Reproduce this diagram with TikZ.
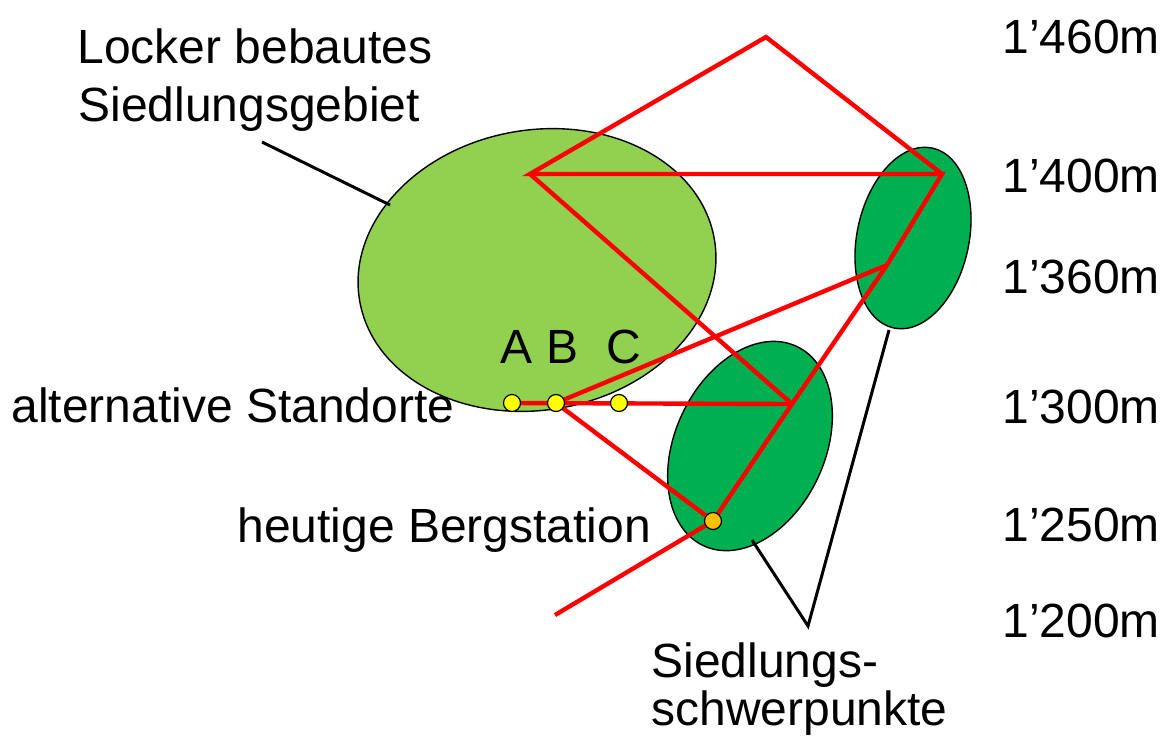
\documentclass[tikz,border=0pt]{standalone}
\usepackage{fontspec}
\setmainfont{Liberation Sans}
\usepackage{xcolor}
\usepackage{tikz}
\usetikzlibrary{shapes.geometric}
\definecolor{verdechiaro}{HTML}{92D050}
\definecolor{verdescuro}{HTML}{00B050}
\definecolor{rosso}{HTML}{FF0000}
\definecolor{giallo}{HTML}{FFFF00}
\definecolor{arancio}{HTML}{FFC000}

\begin{document}
\begin{tikzpicture}[x=0.5pt, y=-0.5pt, font=\fontsize{24}{29}\selectfont,
        zona/.style={ellipse, draw=black, line width=0.7pt, inner sep=0pt},
        linea/.style={rosso, line width=2.2pt, line join=miter},
        freccia/.style={black, line width=1.5pt},
        punto/.style={circle, draw=black, line width=0.6pt, fill=giallo, minimum size=8.5pt, inner sep=0pt}]
        \useasboundingbox (0,0) rectangle (1166,745);
        % Zone
        \node[zona, fill=verdechiaro, minimum width=180pt, minimum height=140pt, rotate=10] (gebiet) at (537,270) {};
        \node[zona, fill=verdescuro, minimum width=56pt, minimum height=92pt, rotate=-12] (zentrum1) at (913,238) {};
        \node[zona, fill=verdescuro, minimum width=75pt, minimum height=110pt, rotate=-25] (zentrum2) at (750,446) {};
        % Punti del tracciato
        \coordinate (vetta) at (766,37);
        \coordinate (sx) at (530,174);
        \coordinate (dx) at (942,174);
        \coordinate (dx2) at (887,265);
        \coordinate (centro) at (792,404);
        \coordinate (valle) at (555,615);
        \coordinate (pA) at (512,403);
        \coordinate (pB) at (556,403);
        \coordinate (pC) at (619,403);
        \coordinate (pS) at (713,521);
        % Linee
        \draw[linea] (valle) -- (pS) -- (centro) -- (dx2) -- (dx) -- (sx) -- (vetta) -- (dx);
        \draw[linea] (sx) -- (centro);
        \draw[linea] (pA) -- (centro);
        \draw[linea] (pB) -- (dx2);
        \draw[linea] (pB) -- (pS);
        % Punti
        \foreach \p in {A,B,C}
            {
                \node[punto] (\p) at (p\p) {};
            }
        \node[punto, fill=arancio] (S) at (pS) {};
        \node[anchor=base] (lA) at (517,363) {A};
        \node[anchor=base] (lB) at (562,363) {B};
        \node[anchor=base] (lC) at (624,363) {C};
        % Quote
        \foreach \y/\q in {53/460, 192/400, 293/360, 423/300, 541/250, 637/200}
            {
                \node[anchor=base west, inner sep=0pt] (q\q) at (1002,\y) {1’\q m};
            }
        % Testi
        \node[anchor=base west, inner sep=0pt] (t1a) at (77,63) {Locker bebautes};
        \node[anchor=base west, inner sep=0pt] (t1b) at (78,121) {Siedlungsgebiet};
        \node[anchor=base west, inner sep=0pt] (t2) at (11,422) {alternative Standorte};
        \node[anchor=base west, inner sep=0pt] (t3) at (237,542) {heutige Bergstation};
        \node[anchor=base west, inner sep=0pt] (t4a) at (651,677) {Siedlungs-};
        \node[anchor=base west, inner sep=0pt] (t4b) at (651,725) {schwerpunkte};
        % Richtlinien
        \coordinate (r1) at (262,142);
        \coordinate (r2) at (808,626);
        \draw[freccia] (r1) -- (390,205);
        \draw[freccia] (752,540) -- (r2) -- (889,330);
    \end{tikzpicture}
\end{document}
